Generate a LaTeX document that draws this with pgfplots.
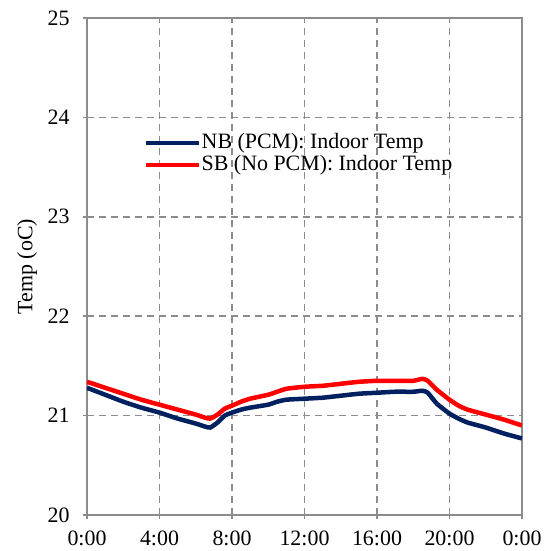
\documentclass[border=0pt]{standalone}
\usepackage{pgfplots}
\pgfplotsset{compat=1.18}
\usepackage{fontspec}
\setmainfont{Liberation Serif}
\definecolor{navy}{HTML}{002060}
\definecolor{gridgray}{HTML}{8C8C8C}
\begin{document}
\begin{tikzpicture}
\useasboundingbox (-87bp,-36bp) rectangle (467bp,515bp);
\begin{axis}[
  at={(0,0)}, anchor=south west,
  scale only axis,
  width=435bp, height=497bp,
  xmin=0, xmax=24, ymin=20, ymax=25,
  xtick={0,4,8,12,16,20,24},
  xticklabels={0:00,4:00,8:00,12:00,16:00,20:00,0:00},
  ytick={20,21,22,23,24,25},
  /pgf/number format/assume math mode=true,
  tick label style={font=\fontsize{22}{26}\selectfont},
  xticklabel style={yshift=-8bp},
  yticklabel style={xshift=-10bp},
  ylabel={Temp (oC)},
  every axis y label/.style={at={([xshift=-60bp]rel axis cs:0,0.5)}, rotate=90, anchor=center,
    font=\fontsize{22}{26}\selectfont},
  grid=major,
  major grid style={gridgray, line width=1.5bp, dash pattern=on 7bp off 5bp},
  axis line style={gridgray, line width=1.5bp},
  tick style={gridgray, line width=1.5bp},
  tick align=center,
  major tick length=8bp,
  xtick pos=bottom, ytick pos=left,
  legend style={draw=none, fill=none, at={(rel axis cs:0.131,0.726)}, anchor=west,
    inner sep=0pt, font=\fontsize{22}{26}\selectfont, row sep=2bp,
    nodes={inner sep=0pt, text height=15bp, text depth=5bp}},
  legend cell align=left,
  legend image code/.code={\draw[#1, line width=4.5bp] (0bp,0bp) -- (53bp,0bp);},
]
\addplot[navy, line width=4.5bp, smooth, tension=0.3] coordinates {
(0,21.28) (1,21.21) (2,21.14) (3,21.08) (4,21.03) (5,20.97) (6,20.92) (6.5,20.89) (6.8,20.88) (7.2,20.93) (7.6,21.00) (8,21.03) (8.5,21.06) (9,21.08) (10,21.11) (10.5,21.14) (11,21.16) (12,21.17) (13,21.18) (14,21.20) (15,21.22) (16,21.23) (17,21.24) (18,21.24) (18.5,21.25) (18.8,21.23) (19.3,21.12) (20,21.02) (20.5,20.97) (21,20.93) (22,20.88) (23,20.82) (24,20.77)
};
\addlegendentry{NB (PCM): Indoor Temp}
\addplot[red, line width=4.5bp, smooth, tension=0.3] coordinates {
(0,21.34) (1,21.28) (2,21.22) (3,21.16) (4,21.11) (5,21.06) (6,21.01) (6.5,20.98) (6.8,20.97) (7.2,21.01) (7.6,21.07) (8,21.10) (8.5,21.14) (9,21.17) (10,21.21) (10.5,21.24) (11,21.27) (12,21.29) (13,21.30) (14,21.32) (15,21.34) (16,21.35) (17,21.35) (18,21.35) (18.5,21.37) (18.8,21.35) (19.3,21.26) (20,21.16) (20.5,21.10) (21,21.06) (22,21.01) (23,20.96) (24,20.90)
};
\addlegendentry{SB (No PCM): Indoor Temp}
\end{axis}
\end{tikzpicture}
\end{document}
